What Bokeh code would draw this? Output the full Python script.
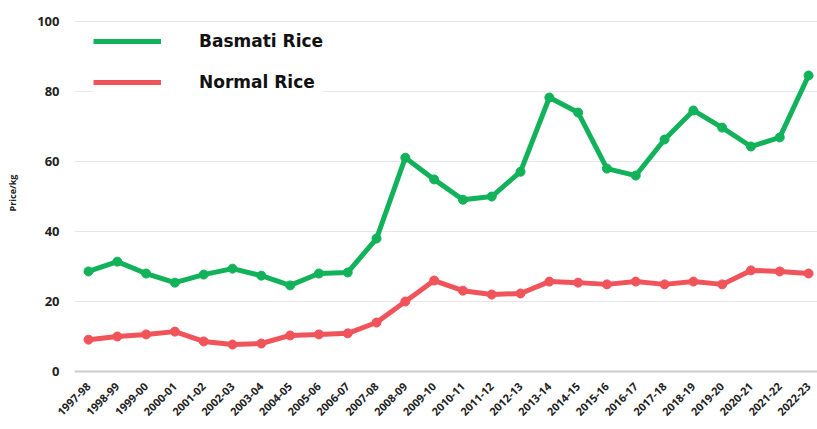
from bokeh.plotting import figure
from bokeh.models import FixedTicker, Span, Legend, LegendItem, Range1d
from bokeh.embed import file_html
from bokeh.resources import INLINE
import math

years = ["1997-98", "1998-99", "1999-00", "2000-01", "2001-02", "2002-03", "2003-04",
         "2004-05", "2005-06", "2006-07", "2007-08", "2008-09", "2009-10", "2010-11",
         "2011-12", "2012-13", "2013-14", "2014-15", "2015-16", "2016-17", "2017-18",
         "2018-19", "2019-20", "2020-21", "2021-22", "2022-23"]
basmati = [28.6, 31.4, 28.0, 25.4, 27.7, 29.4, 27.4, 24.6, 28.0, 28.3, 38.0, 61.1, 54.9,
           49.1, 50.0, 57.1, 78.3, 74.0, 58.0, 56.0, 66.3, 74.6, 69.7, 64.3, 66.9, 84.6]
normal = [9.1, 10.0, 10.6, 11.4, 8.6, 7.7, 8.0, 10.3, 10.6, 10.9, 14.0, 20.0, 26.0,
          23.1, 22.0, 22.3, 25.7, 25.4, 24.9, 25.7, 24.9, 25.7, 24.9, 28.9, 28.6, 28.0]
y_ticks = [0, 20, 40, 60, 80, 100]

GREEN = "#12b25a"
RED = "#f0545a"
FONT = "Open Sans"
LFONT = "DejaVu Sans"

xs = list(range(len(years)))

p = figure(width=817, height=429, output_backend="svg", toolbar_location=None,
           x_range=Range1d(-0.486, 25.31), y_range=Range1d(-0.57, 102.6),
           min_border_left=74, min_border_right=0, min_border_top=12, min_border_bottom=56)
p.outline_line_color = None
p.background_fill_color = "white"

p.xgrid.grid_line_color = None
p.ygrid.grid_line_color = "#e6e6e6"
p.ygrid.grid_line_width = 1

zero = Span(location=0, dimension="width", line_color="#cccccc", line_width=2)
p.add_layout(zero)

lb = p.line(xs, basmati, line_color=GREEN, line_width=5)
p.scatter(xs, basmati, size=9, fill_color=GREEN, line_color=GREEN)
ln = p.line(xs, normal, line_color=RED, line_width=5)
p.scatter(xs, normal, size=9, fill_color=RED, line_color=RED)

p.yaxis.ticker = FixedTicker(ticks=y_ticks)
p.xaxis.ticker = FixedTicker(ticks=xs)
p.xaxis.major_label_overrides = {i: y for i, y in enumerate(years)}
p.xaxis.major_label_orientation = math.pi / 4

for ax in (p.xaxis[0], p.yaxis[0]):
    ax.axis_line_color = None
    ax.major_tick_line_color = None
    ax.minor_tick_line_color = None
    ax.major_label_text_font = FONT
    ax.major_label_text_font_style = "bold"
    ax.major_label_text_color = "#222222"

p.yaxis.major_label_text_font_size = "13px"
p.yaxis.major_label_standoff = 9
p.xaxis.major_label_text_font_size = "11px"
p.xaxis.major_label_standoff = 5

p.yaxis.axis_label = "Price/kg"
p.yaxis.axis_label_text_font = FONT
p.yaxis.axis_label_text_font_size = "9px"
p.yaxis.axis_label_text_font_style = "bold"
p.yaxis.axis_label_text_color = "#222222"
p.yaxis.axis_label_standoff = 15

legend = Legend(items=[LegendItem(label="Basmati Rice", renderers=[lb]),
                       LegendItem(label="Normal Rice", renderers=[ln])],
                location="top_left", margin=19, padding=0,
                glyph_width=68, glyph_height=14, label_height=14, spacing=21,
                label_standoff=38, border_line_color=None,
                background_fill_color="white", background_fill_alpha=1.0,
                label_text_font=LFONT, label_text_font_size="17px",
                label_text_font_style="bold", label_text_color="#111111")
p.add_layout(legend)

open("out.html", "w").write(file_html(p, INLINE))
